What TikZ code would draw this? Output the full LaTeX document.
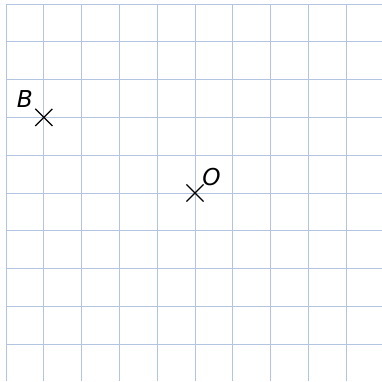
\documentclass[tikz,border=0pt]{standalone}
\usepackage{fontspec}
\setmainfont{DejaVu Sans}
\usetikzlibrary{shapes.misc}
\definecolor{gridblue}{RGB}{178,196,224}

\begin{document}
\begin{tikzpicture}[
  gridline/.style={draw=gridblue, line width=0.6pt},
  pointmark/.style={draw, cross out, minimum size=0.42cm, inner sep=0pt, line width=0.9pt},
  pointlabel/.style={font=\fontsize{17.5}{20}\selectfont\itshape, inner sep=0pt}
]
\useasboundingbox (-0.159,-0.974) rectangle (9.947,9.106);
\draw[gridline] (0,-0.974) grid (9.947,9);
\node[pointmark] (B) at (1,6) {};
\node[pointlabel] (Blabel) at (0.5,6.49) {B};
\node[pointmark] (O) at (5,4) {};
\node[pointlabel] (Olabel) at (5.44,4.42) {O};
\end{tikzpicture}
\end{document}
